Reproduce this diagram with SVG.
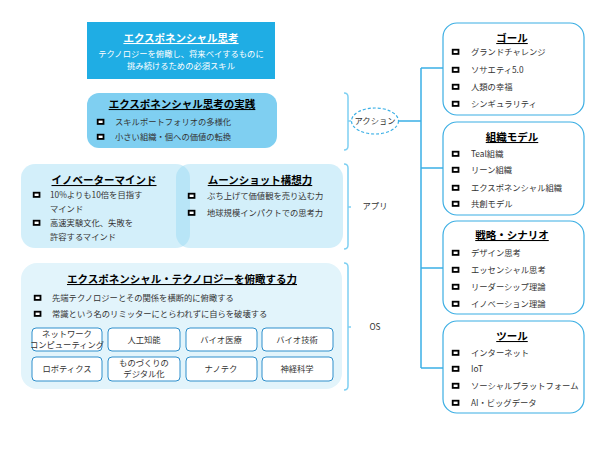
<svg xmlns="http://www.w3.org/2000/svg" width="600" height="450" viewBox="0 0 600 450">
<style>
text{font-family:"Noto Sans CJK JP","Noto Sans",sans-serif}
.h{font-size:10.5px;font-weight:bold;text-decoration:underline;text-anchor:middle;fill:#000}
.b{font-size:8.3px;fill:#333}
.m{font-size:8.3px;fill:#333;text-anchor:middle}
.w{font-size:8.3px;fill:#fff;text-anchor:middle}
.sq{fill:#fff;stroke:#000;stroke-width:1.8}
.rb{fill:#fff;stroke:#3BAEE3;stroke-width:1.2}
.sb{fill:#fff;stroke:#2E8FCC;stroke-width:1}
.br{fill:none;stroke:#7FD0F2;stroke-width:1.5}
.c{fill:none;stroke:#3BB0E6;stroke-width:1.5}
.l{fill:#8BD4F2;fill-opacity:0.38}
</style>
<defs>
<rect id="bq" x="-0.3" y="-0.3" width="5.8" height="4.2" class="sq"/>
</defs>

<g id="connectors">
<path class="br" d="M344,93 Q348,93 348,97 L348,146 Q348,150 344,150 M348,121 L351,121"/>
<path class="br" d="M344,164 Q348,164 348,168 L348,245 Q348,249 344,249 M348,207 L351,207"/>
<path class="br" d="M344,263 Q348,263 348,267 L348,386 Q348,390 344,390 M348,327 L351,327"/>
<path class="c" d="M399,121 H421 M421,68 V368 M421,68 H443 M421,168 H443 M421,268 H443 M421,368 H443"/>
</g>

<g id="top">
<rect x="87" y="22" width="188" height="57" fill="#1FADE4"/>
<text x="181" y="42" class="h" style="fill:#fff">エクスポネンシャル思考</text>
<text x="181" y="57" class="w">テクノロジーを俯瞰し、将来ベイするものに</text>
<text x="181" y="69" class="w">挑み続けるための必須スキル</text>
</g>

<g id="practice">
<rect x="87" y="93" width="190" height="55" rx="12" fill="#7FCFF1"/>
<text x="182" y="108" class="h">エクスポネンシャル思考の実践</text>
<use href="#bq" x="98" y="120"/><text x="115" y="125" class="b">スキルポートフォリオの多様化</text>
<use href="#bq" x="98" y="135"/><text x="115" y="140" class="b">小さい組織・個への価値の転換</text>
</g>

<g id="innovator">
<rect x="21" y="164" width="169" height="84" rx="14" class="l"/>
<text x="104" y="184" class="h">イノベーターマインド</text>
<use href="#bq" x="34" y="193"/><text x="50" y="198" class="b">10%よりも10倍を目指す</text>
<text x="50" y="212" class="b">マインド</text>
<use href="#bq" x="34" y="221"/><text x="50" y="226" class="b">高速実験文化、失敗を</text>
<text x="50" y="240" class="b">許容するマインド</text>
</g>

<g id="moonshot">
<rect x="176" y="164" width="167" height="84" rx="14" class="l"/>
<text x="260" y="184" class="h">ムーンショット構想力</text>
<use href="#bq" x="189" y="194"/><text x="207" y="199" class="b">ぶち上げて価値観を売り込む力</text>
<use href="#bq" x="189" y="211"/><text x="207" y="216" class="b">地球規模インパクトでの思考力</text>
</g>

<g id="tech">
<rect x="21" y="263" width="321" height="126" rx="16" fill="#E2F4FB"/>
<text x="182" y="283" class="h">エクスポネンシャル・テクノロジーを俯瞰する力</text>
<use href="#bq" x="35" y="296"/><text x="52" y="301" class="b">先端テクノロジーとその関係を横断的に俯瞰する</text>
<use href="#bq" x="35" y="312"/><text x="52" y="317" class="b">常識という名のリミッターにとらわれずに自らを破壊する</text>
<rect x="32" y="328" width="70" height="23" rx="4" class="sb"/>
<text x="67" y="337" class="m">ネットワーク</text><text x="67" y="348" class="m">コンピューティング</text>
<rect x="108" y="328" width="72" height="23" rx="4" class="sb"/>
<text x="144" y="343" class="m">人工知能</text>
<rect x="186" y="328" width="71" height="23" rx="4" class="sb"/>
<text x="221" y="343" class="m">バイオ医療</text>
<rect x="262" y="328" width="71" height="23" rx="4" class="sb"/>
<text x="297" y="343" class="m">バイオ技術</text>
<rect x="32" y="357" width="70" height="24" rx="4" class="sb"/>
<text x="67" y="372" class="m">ロボティクス</text>
<rect x="108" y="357" width="72" height="24" rx="4" class="sb"/>
<text x="144" y="366" class="m">ものづくりの</text><text x="144" y="377" class="m">デジタル化</text>
<rect x="186" y="357" width="71" height="24" rx="4" class="sb"/>
<text x="221" y="372" class="m">ナノテク</text>
<rect x="262" y="357" width="71" height="24" rx="4" class="sb"/>
<text x="297" y="372" class="m">神経科学</text>
</g>

<g id="labels">
<ellipse cx="375" cy="121" rx="23.5" ry="13" fill="none" stroke="#3BB0E6" stroke-width="1.2" stroke-dasharray="3,2"/>
<text x="375" y="124" class="m">アクション</text>
<text x="375" y="209" class="m">アプリ</text>
<text x="375" y="330" class="m">OS</text>
</g>

<g id="goal">
<rect x="443" y="23" width="141" height="92" rx="14" class="rb"/>
<text x="512" y="42" class="h">ゴール</text>
<use href="#bq" x="453" y="50"/><text x="471" y="55" class="b">グランドチャレンジ</text>
<use href="#bq" x="453" y="68"/><text x="471" y="73" class="b">ソサエティ5.0</text>
<use href="#bq" x="453" y="85"/><text x="471" y="90" class="b">人類の幸福</text>
<use href="#bq" x="453" y="102"/><text x="471" y="107" class="b">シンギュラリティ</text>
</g>

<g id="org">
<rect x="443" y="122" width="141" height="93" rx="14" class="rb"/>
<text x="512" y="141" class="h">組織モデル</text>
<use href="#bq" x="453" y="152"/><text x="471" y="157" class="b">Teal組織</text>
<use href="#bq" x="453" y="168"/><text x="471" y="173" class="b">リーン組織</text>
<use href="#bq" x="453" y="186"/><text x="471" y="191" class="b">エクスポネンシャル組織</text>
<use href="#bq" x="453" y="202"/><text x="471" y="207" class="b">共創モデル</text>
</g>

<g id="strategy">
<rect x="443" y="221" width="141" height="93" rx="14" class="rb"/>
<text x="512" y="239" class="h">戦略・シナリオ</text>
<use href="#bq" x="453" y="251"/><text x="471" y="256" class="b">デザイン思考</text>
<use href="#bq" x="453" y="268"/><text x="471" y="273" class="b">エッセンシャル思考</text>
<use href="#bq" x="453" y="285"/><text x="471" y="290" class="b">リーダーシップ理論</text>
<use href="#bq" x="453" y="302"/><text x="471" y="307" class="b">イノベーション理論</text>
</g>

<g id="tools">
<rect x="443" y="321" width="141" height="92" rx="14" class="rb"/>
<text x="512" y="340" class="h">ツール</text>
<use href="#bq" x="453" y="351"/><text x="471" y="356" class="b">インターネット</text>
<use href="#bq" x="453" y="367"/><text x="471" y="372" class="b">IoT</text>
<use href="#bq" x="453" y="384"/><text x="471" y="389" class="b">ソーシャルプラットフォーム</text>
<use href="#bq" x="453" y="401"/><text x="471" y="406" class="b">AI・ビッグデータ</text>
</g>
</svg>
